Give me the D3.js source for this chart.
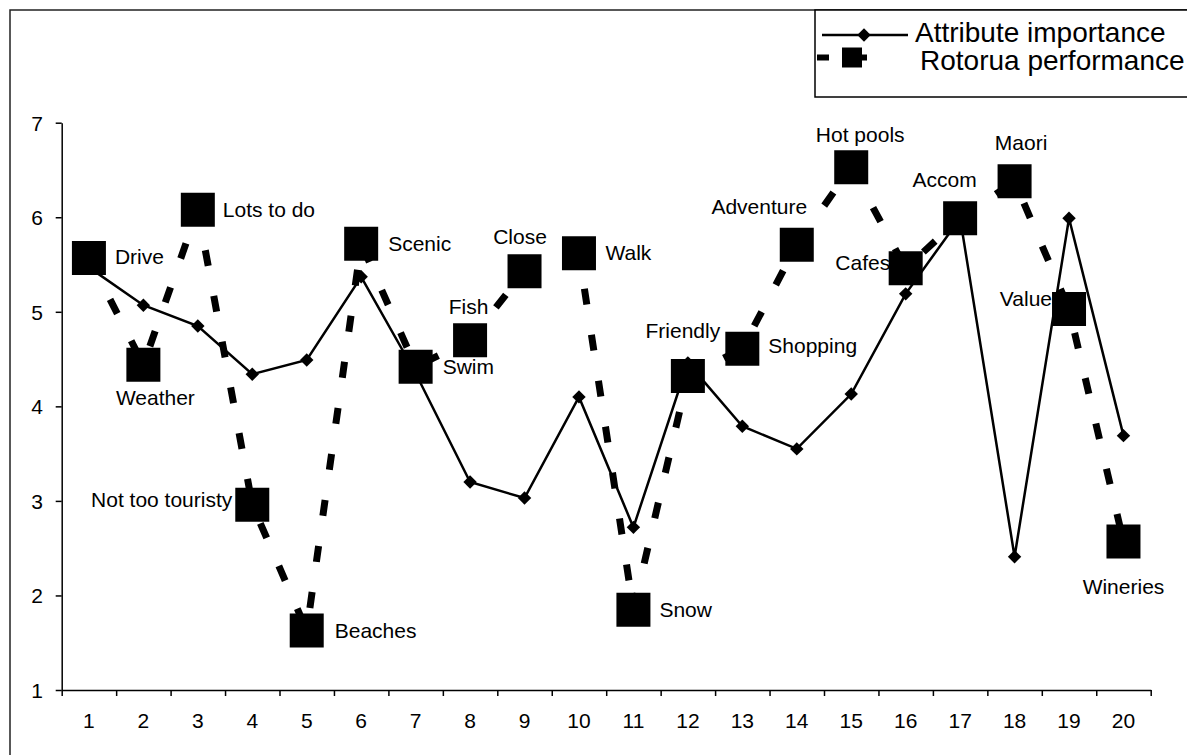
<!DOCTYPE html>
<html>
<head>
<meta charset="utf-8">
<script src="https://cdn.jsdelivr.net/npm/d3@7"></script>
<style>
  html, body { margin: 0; padding: 0; background: #fff; }
  svg { display: block; }
  text { font-family: "Liberation Sans", Arial, Helvetica, sans-serif; fill: #000; }
</style>
</head>
<body>
<script>
// Destination attributes (x categories 1..20)
const categories = [1, 2, 3, 4, 5, 6, 7, 8, 9, 10, 11, 12, 13, 14, 15, 16, 17, 18, 19, 20];
const attributes = ["Drive", "Weather", "Lots to do", "Not too touristy", "Beaches", "Scenic",
  "Swim", "Fish", "Close", "Walk", "Snow", "Friendly", "Shopping", "Adventure",
  "Hot pools", "Cafes", "Accom", "Maori", "Value", "Wineries"];

// Mean scores on a 1-7 scale
const importance = [5.47, 5.07, 4.85, 4.34, 4.49, 5.37, 4.35, 3.20, 3.03, 4.10,
  2.72, 4.46, 3.79, 3.55, 4.13, 5.19, 5.99, 2.41, 5.99, 3.69];
const performance = [5.57, 4.44, 6.08, 2.96, 1.63, 5.72, 4.42, 4.70, 5.43, 5.62,
  1.85, 4.32, 4.61, 5.71, 6.53, 5.46, 5.99, 6.38, 5.03, 2.57];

const yTicks = [1, 2, 3, 4, 5, 6, 7];
const seriesNames = ["Attribute importance", "Rotorua performance"];

// Where each performance label sits relative to its marker
const labelPlacement = [
  { anchor: "start", dx: 26, dy: -1 },     // Drive
  { anchor: "middle", dx: 12, dy: 32.5 },  // Weather
  { anchor: "start", dx: 25, dy: 0 },      // Lots to do
  { anchor: "end", dx: -20, dy: -5.5 },    // Not too touristy
  { anchor: "start", dx: 28, dy: 0 },      // Beaches
  { anchor: "start", dx: 27, dy: 0 },      // Scenic
  { anchor: "start", dx: 27, dy: 0 },      // Swim
  { anchor: "middle", dx: -1.5, dy: -33.5 },// Fish
  { anchor: "middle", dx: -4.5, dy: -35 }, // Close
  { anchor: "start", dx: 26.5, dy: -1 },   // Walk
  { anchor: "start", dx: 26, dy: 0 },      // Snow
  { anchor: "middle", dx: -5, dy: -46 },   // Friendly
  { anchor: "start", dx: 26, dy: -3 },     // Shopping
  { anchor: "middle", dx: -37.5, dy: -38 },// Adventure
  { anchor: "middle", dx: 9, dy: -33 },    // Hot pools
  { anchor: "end", dx: -15.5, dy: -5.5 },  // Cafes
  { anchor: "middle", dx: -15.5, dy: -39 },// Accom
  { anchor: "middle", dx: 6.5, dy: -38.7 },// Maori
  { anchor: "end", dx: -17, dy: -10 },     // Value
  { anchor: "middle", dx: 0, dy: 44.7 }    // Wineries
];

const W = 1187, H = 755;
const plot = { left: 61.7, right: 1150.7, top: 122.7, bottom: 690 };
const FONT = 21;
const CAP = FONT * 0.716; // cap height, used to centre text vertically

const svg = d3.select("body").append("svg")
  .attr("width", W).attr("height", H)
  .attr("viewBox", `0 0 ${W} ${H}`);

// Scales
const x = d3.scaleBand().domain(categories).range([plot.left, plot.right]).padding(0);
const cx = c => x(c) + x.bandwidth() / 2;
const y = d3.scaleLinear().domain([1, 7]).range([plot.bottom, plot.top]);
const edge = d3.scaleLinear().domain([0, categories.length]).range([plot.left, plot.right]);

// Outer chart frame (runs off the page at the right and bottom)
svg.append("path")
  .attr("d", `M10,${H + 5}V10H${W + 5}`)
  .attr("fill", "none").attr("stroke", "#222").attr("stroke-width", 1.5);

// X axis: line and tick marks between categories
const xTickAxis = svg.append("g")
  .attr("transform", `translate(0,${plot.bottom})`)
  .call(d3.axisBottom(edge)
    .tickValues(d3.range(0, categories.length + 1))
    .tickFormat("")
    .tickSize(6).tickSizeOuter(0));
xTickAxis.selectAll("line, path").attr("stroke", "#000").attr("stroke-width", 1.5);

// X axis: category numbers centred in each band
const xLabelAxis = svg.append("g")
  .attr("transform", `translate(0,${plot.bottom})`)
  .call(d3.axisBottom(x).tickSize(0));
xLabelAxis.select(".domain").remove();
xLabelAxis.selectAll("text")
  .attr("y", 30.5 + CAP / 2).attr("dy", null)
  .style("font-size", FONT + "px")
  .style("font-family", '"Liberation Sans", Arial, sans-serif')
  .attr("fill", "#000");

// Y axis
const yAxis = svg.append("g")
  .attr("transform", `translate(${plot.left},0)`)
  .call(d3.axisLeft(y).tickValues(yTicks).tickFormat(d3.format("d"))
    .tickSize(6).tickSizeOuter(0));
yAxis.selectAll("line, path").attr("stroke", "#000").attr("stroke-width", 1.5);
yAxis.selectAll("text")
  .attr("x", -18.7).attr("dy", null).attr("y", CAP / 2)
  .style("font-size", FONT + "px")
  .style("font-family", '"Liberation Sans", Arial, sans-serif')
  .attr("fill", "#000");

const idx = d3.range(categories.length);

// Attribute importance: solid line with diamond markers
const impLine = d3.line().x(i => cx(categories[i])).y(i => y(importance[i]));
svg.append("path")
  .attr("d", impLine(idx))
  .attr("fill", "none").attr("stroke", "#000").attr("stroke-width", 2.5)
  .attr("stroke-linejoin", "miter");

const diamond = d3.symbol(d3.symbolSquare, 90)();
svg.append("g").selectAll("path")
  .data(idx).join("path")
  .attr("d", diamond)
  .attr("transform", i => `translate(${cx(categories[i])},${y(importance[i])}) rotate(45)`)
  .attr("fill", "#000");

// Rotorua performance: heavy dashed line with square markers
const perfLine = d3.line().x(i => cx(categories[i])).y(i => y(performance[i]));
svg.append("path")
  .attr("d", perfLine(idx))
  .attr("fill", "none").attr("stroke", "#000").attr("stroke-width", 7)
  .attr("stroke-dasharray", "16,30.5").attr("stroke-linecap", "butt");

const square = d3.symbol(d3.symbolSquare, 34 * 34)();
svg.append("g").selectAll("path")
  .data(idx).join("path")
  .attr("d", square)
  .attr("transform", i => `translate(${cx(categories[i])},${y(performance[i])})`)
  .attr("fill", "#000");

// Attribute names next to the performance markers
svg.append("g").selectAll("text")
  .data(idx).join("text")
  .attr("x", i => cx(categories[i]) + labelPlacement[i].dx)
  .attr("y", i => y(performance[i]) + labelPlacement[i].dy + CAP / 2)
  .attr("text-anchor", i => labelPlacement[i].anchor)
  .style("font-size", FONT + "px")
  .text(i => attributes[i]);

// Legend
const legend = svg.append("g");
legend.append("rect")
  .attr("x", 815).attr("y", 10).attr("width", 420).attr("height", 87)
  .attr("fill", "#fff").attr("stroke", "#000").attr("stroke-width", 1.5);

legend.append("line")
  .attr("x1", 822).attr("x2", 908).attr("y1", 35).attr("y2", 35)
  .attr("stroke", "#000").attr("stroke-width", 2.5);
legend.append("path")
  .attr("d", diamond)
  .attr("transform", "translate(864,35) rotate(45)")
  .attr("fill", "#000");
legend.append("text")
  .attr("x", 915).attr("y", 41.7)
  .style("font-size", "28px")
  .text(seriesNames[0]);

legend.append("line")
  .attr("x1", 817).attr("x2", 908).attr("y1", 57.5).attr("y2", 57.5)
  .attr("stroke", "#000").attr("stroke-width", 6)
  .attr("stroke-dasharray", "12,22,16,200");
legend.append("path")
  .attr("d", d3.symbol(d3.symbolSquare, 20 * 20)())
  .attr("transform", "translate(852,57.5)")
  .attr("fill", "#000");
legend.append("text")
  .attr("x", 920).attr("y", 70)
  .style("font-size", "28px")
  .text(seriesNames[1]);
</script>
</body>
</html>
